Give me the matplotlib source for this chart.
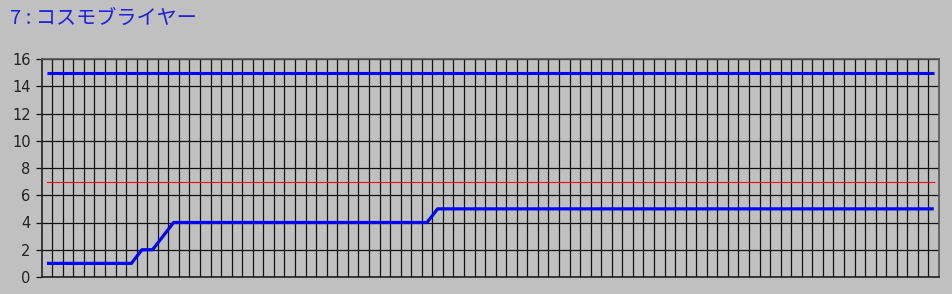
import matplotlib
matplotlib.use("Agg")
import matplotlib.pyplot as plt
import numpy as np

title = "7 : コスモブライヤー"
values = [1, 1, 1, 1, 1, 1, 1, 1, 1, 2, 2, 3, 4, 4, 4, 4, 4, 4, 4, 4,
          4, 4, 4, 4, 4, 4, 4, 4, 4, 4, 4, 4, 4, 4, 4, 4, 4, 5, 5, 5,
          5, 5, 5, 5, 5, 5, 5, 5, 5, 5, 5, 5, 5, 5, 5, 5, 5, 5, 5, 5,
          5, 5, 5, 5, 5, 5, 5, 5, 5, 5, 5, 5, 5, 5, 5, 5, 5, 5, 5, 5,
          5, 5, 5, 5, 5]
upper_limit = 15
red_level = 7
yticks = [0, 2, 4, 6, 8, 10, 12, 14, 16]

plt.rcParams['font.family'] = ['Noto Sans CJK JP', 'DejaVu Sans']

bg = '#C0C0C0'
fig = plt.figure(figsize=(9.52, 2.94), dpi=100, facecolor=bg)
ax = fig.add_axes([41.7 / 952, 17 / 294, (939 - 41.7) / 952, (277 - 59) / 294])
ax.set_facecolor(bg)

n = len(values)
x = np.arange(n)
ax.set_xlim(-0.5, n - 0.5)
ax.set_ylim(0, 16)

# vertical grid at category boundaries
for b in np.arange(0.5, n - 0.5, 1.0):
    ax.axvline(b, color='#111111', lw=0.9, zorder=1)
ax.set_yticks(yticks)
ax.yaxis.grid(True, color='#111111', lw=0.9, zorder=1)
ax.set_axisbelow(True)
ax.set_xticks([])
ax.tick_params(axis='y', length=4, width=0.9, color='#111111', labelsize=10.5, pad=4)
for t in ax.get_yticklabels():
    t.set_color('#222222')
    t.set_family(['DejaVu Sans'])

for s in ax.spines.values():
    s.set_color('#555555')
    s.set_linewidth(1.2)
ax.spines['bottom'].set_color('#222222')
ax.spines['left'].set_color('#222222')

ax.plot(x, [upper_limit] * n, color='#0000FF', lw=2.2, zorder=3, solid_capstyle='butt')
ax.plot(x, [red_level] * n, color='#FF0000', lw=0.8, zorder=3)
ax.plot(x, values, color='#0000FF', lw=2.3, zorder=4, solid_capstyle='butt')

fig.text(10 / 952, 1 - 18 / 294, title, color='#2020E0', fontsize=14.5,
         va='center', ha='left')

fig.savefig('out.png', dpi=100, facecolor=bg)
